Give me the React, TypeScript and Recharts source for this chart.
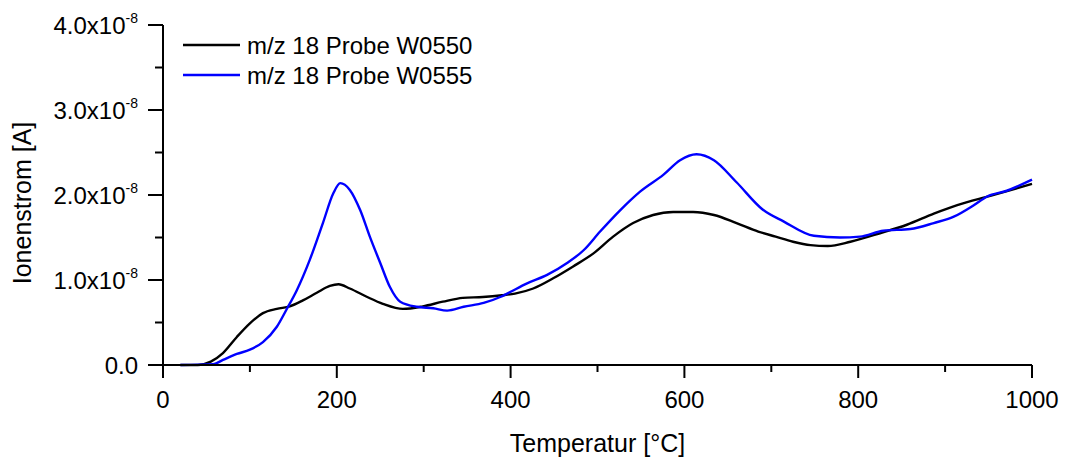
import { LineChart, Line, XAxis, YAxis, Legend } from "recharts"

// temperatures [°C] and ion current [x10^-8 A]
const tempW0550 = [20, 40, 55, 69, 85, 100, 115, 131, 146, 161, 177, 192, 202, 215, 235, 253, 276, 299, 322, 345, 368, 390, 405, 426, 449, 472, 495, 518, 541, 564, 587, 610, 634, 660, 685, 705, 725, 745, 765, 791, 825, 856, 887, 914, 952, 1000]
const ionW0550 = [0, 0, 0.04, 0.14, 0.33, 0.49, 0.61, 0.66, 0.69, 0.76, 0.85, 0.93, 0.95, 0.9, 0.8, 0.72, 0.66, 0.69, 0.745, 0.79, 0.8, 0.82, 0.84, 0.9, 1.02, 1.16, 1.31, 1.51, 1.67, 1.765, 1.8, 1.8, 1.765, 1.67, 1.57, 1.51, 1.45, 1.41, 1.4, 1.45, 1.55, 1.65, 1.78, 1.88, 1.99, 2.13]

const tempW0555 = [20, 58, 69, 85, 100, 115, 131, 142, 154, 169, 184, 196, 204, 215, 227, 238, 250, 261, 273, 292, 311, 327, 346, 369, 388, 396, 419, 442, 465, 484, 503, 526, 549, 576, 595, 614, 634, 660, 690, 714, 749, 779, 802, 829, 860, 887, 910, 933, 948, 971, 1000]
const ionW0555 = [0, 0.01, 0.06, 0.13, 0.18, 0.27, 0.45, 0.65, 0.88, 1.24, 1.67, 2.02, 2.14, 2.06, 1.82, 1.51, 1.2, 0.92, 0.745, 0.685, 0.667, 0.64, 0.685, 0.73, 0.8, 0.84, 0.96, 1.06, 1.2, 1.35, 1.57, 1.82, 2.04, 2.24, 2.41, 2.48, 2.41, 2.15, 1.83, 1.69, 1.52, 1.5, 1.51, 1.58, 1.6, 1.67, 1.745, 1.88, 1.98, 2.05, 2.18]

const xTicks = [0, 100, 200, 300, 400, 500, 600, 700, 800, 900, 1000]
const yTicks = [0, 0.5, 1, 1.5, 2, 2.5, 3, 3.5, 4]

const seriesNames = ["m/z 18 Probe W0550", "m/z 18 Probe W0555"]

const dataW0550 = tempW0550.map((t, i) => ({ t, i: ionW0550[i] }))
const dataW0555 = tempW0555.map((t, i) => ({ t, i: ionW0555[i] }))

const FONT = "Arial, 'Liberation Sans', sans-serif"

const XTick = ({ x, y, payload }: any) => {
  const major = payload.value % 200 === 0
  return (
    <g>
      <line x1={x} x2={x} y1={y} y2={y + (major ? 13 : 7)} stroke="#000" strokeWidth={2} />
      {major && (
        <text x={x} y={y + 43} textAnchor="middle" fontSize={24} fontFamily={FONT} fill="#000">
          {payload.value}
        </text>
      )}
    </g>
  )
}

const YTick = ({ x, y, payload }: any) => {
  const v = payload.value
  const major = Number.isInteger(v)
  return (
    <g>
      <line x1={x - (major ? 15 : 8)} x2={x} y1={y} y2={y} stroke="#000" strokeWidth={2} />
      {major && (
        <text x={x - 25} y={y + 9} textAnchor="end" fontSize={24} fontFamily={FONT} fill="#000">
          {v.toFixed(1)}
          {v > 0 && "x10"}
          {v > 0 && (
            <tspan fontSize={14} dy={-11}>
              -8
            </tspan>
          )}
        </text>
      )}
    </g>
  )
}

const LegendBox = ({ payload }: any) => (
  <div style={{ fontFamily: FONT, fontSize: 24, color: "#000" }}>
    {(payload ?? []).map((p: any) => (
      <div key={p.value} style={{ display: "flex", alignItems: "center", height: 30 }}>
        <svg width={57} height={4} style={{ marginRight: 7 }}>
          <line x1={0} x2={57} y1={2} y2={2} stroke={p.color} strokeWidth={2.4} />
        </svg>
        <span style={{ lineHeight: "30px", position: "relative", top: 1 }}>{p.value}</span>
      </div>
    ))}
  </div>
)

export default function App() {
  return (
    <div style={{ position: "absolute", left: 0, top: 0, background: "#fff" }}>
      <LineChart width={1065} height={461} margin={{ top: 25, right: 33, left: 0, bottom: 0 }}>
        <XAxis
          type="number"
          dataKey="t"
          domain={[0, 1000]}
          ticks={xTicks}
          interval={0}
          height={96}
          tickSize={0}
          tickMargin={0}
          tickLine={false}
          tick={<XTick />}
          axisLine={{ stroke: "#000", strokeWidth: 2 }}
          label={{
            value: "Temperatur [°C]",
            position: "insideBottom",
            offset: 9,
            fill: "#000",
            fontSize: 25,
            fontFamily: FONT,
          }}
        />
        <YAxis
          type="number"
          domain={[0, 4]}
          ticks={yTicks}
          interval={0}
          width={163}
          tickSize={0}
          tickMargin={0}
          tickLine={false}
          tick={<YTick />}
          axisLine={{ stroke: "#000", strokeWidth: 2 }}
          label={{
            content: ({ viewBox }: any) => {
              const cx = viewBox.x + 22
              const cy = viewBox.y + viewBox.height / 2 + 8
              return (
                <text
                  x={cx}
                  y={cy}
                  transform={`rotate(-90 ${cx} ${cy})`}
                  textAnchor="middle"
                  dominantBaseline="central"
                  fontSize={25}
                  fontFamily={FONT}
                  fill="#000"
                >
                  Ionenstrom [A]
                </text>
              )
            },
          }}
        />
        <Legend
          layout="horizontal"
          verticalAlign="middle"
          align="center"
          wrapperStyle={{ left: 183, top: 30, width: "auto" }}
          content={<LegendBox />}
        />
        <Line
          data={dataW0550}
          dataKey="i"
          name={seriesNames[0]}
          type="monotone"
          stroke="#000000"
          strokeWidth={2.4}
          dot={false}
          activeDot={false}
          isAnimationActive={false}
        />
        <Line
          data={dataW0555}
          dataKey="i"
          name={seriesNames[1]}
          type="monotone"
          stroke="#0000ff"
          strokeWidth={2.4}
          dot={false}
          activeDot={false}
          isAnimationActive={false}
        />
      </LineChart>
    </div>
  )
}
